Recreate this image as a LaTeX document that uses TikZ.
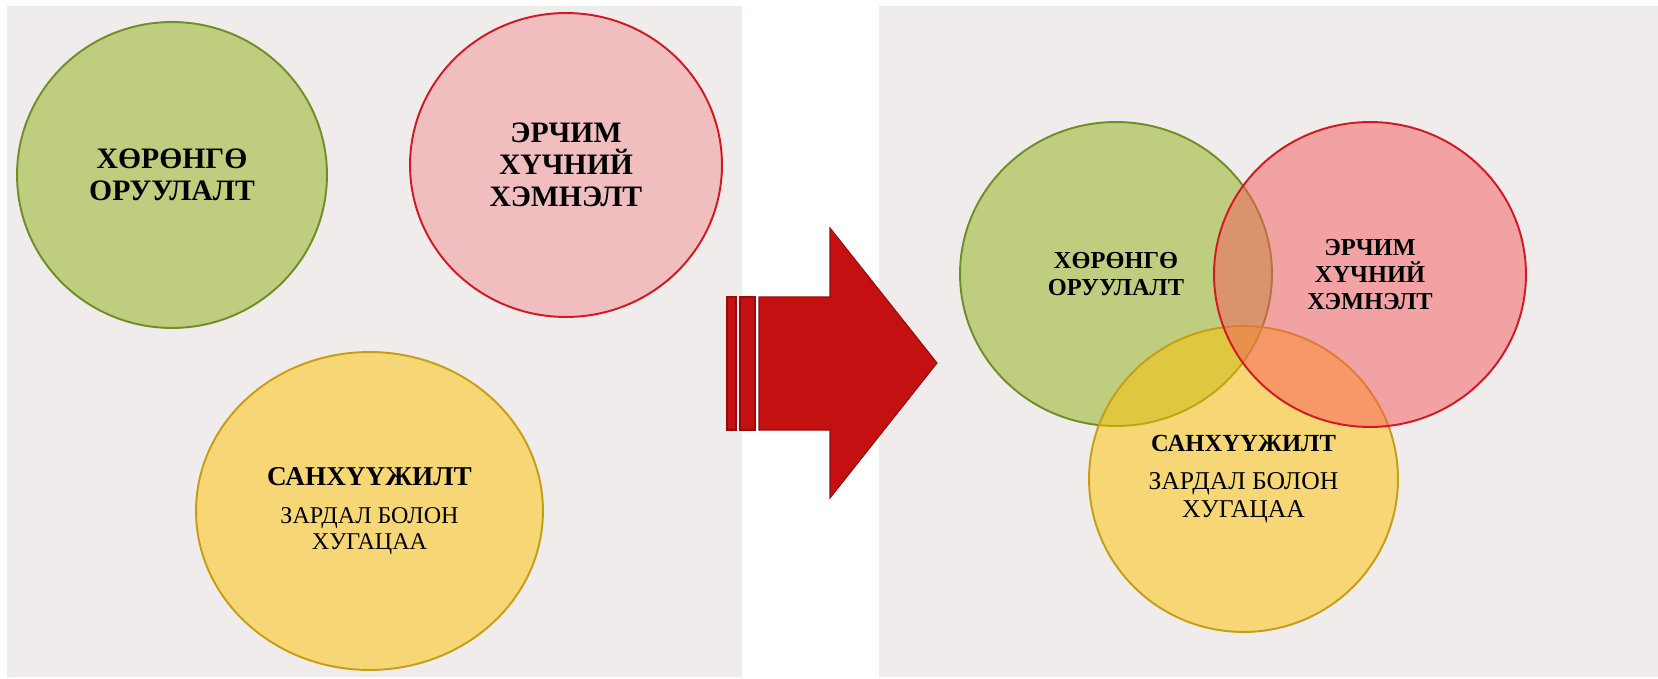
\documentclass[tikz,border=0pt]{standalone}
\usepackage{fontspec}
\setmainfont{Liberation Serif}
\usetikzlibrary{shapes.geometric}

\definecolor{panelgray}{RGB}{240,236,236}
\definecolor{greenfill}{RGB}{144,176,20}
\definecolor{greenline}{RGB}{112,142,40}
\definecolor{redfill}{RGB}{246,90,92}
\definecolor{redline}{RGB}{212,24,34}
\definecolor{yellowfill}{RGB}{255,196,0}
\definecolor{yellowline}{RGB}{198,158,20}
\definecolor{arrowred}{RGB}{196,16,16}
\definecolor{arrowline}{RGB}{150,12,12}

\begin{document}
\begin{tikzpicture}[x=0.02cm, y=-0.02cm,
    panel/.style={fill=panelgray},
    disc/.style={ellipse, inner sep=0pt, align=center, line width=1.1pt, fill opacity=0.5, text opacity=1},
    bigbold/.style={font=\fontsize{16.9}{18.2}\selectfont\bfseries},
    smallbold/.style={font=\fontsize{13.9}{15.4}\selectfont\bfseries},
    stripe/.style={fill=arrowred, draw=arrowline, line width=0.6pt}]

    \useasboundingbox (0,0) rectangle (1658,679);

    \fill[panel] (7,6) rectangle (742,677);
    \fill[panel] (879,6) rectangle (1658,677);

    % before
    \node[disc, bigbold, draw=greenline, fill=greenfill, minimum width=6.2cm, minimum height=6.12cm]
        (assetL) at (172,175) {ХӨРӨНГӨ\\ОРУУЛАЛТ};
    \node[disc, bigbold, draw=redline, fill=redfill, fill opacity=0.31, minimum width=6.24cm, minimum height=6.08cm]
        (energyL) at (566,165) {ЭРЧИМ\\ХҮЧНИЙ\\ХЭМНЭЛТ};
    \node[disc, draw=yellowline, fill=yellowfill, minimum width=6.94cm, minimum height=6.36cm,
        font=\fontsize{13.7}{15.2}\selectfont]
        (financeL) at (369.5,511) {{\bfseries\fontsize{15.5}{15.5}\selectfont САНХҮҮЖИЛТ}\\[6.5pt]ЗАРДАЛ БОЛОН\\ХУГАЦАА};

    \draw[stripe] (727,297) rectangle (736,430);
    \draw[stripe] (740,297) rectangle (755,430);
    \draw[stripe] (759,297) -- (830,297) -- (830,228) -- (937,363) -- (830,498) -- (830,430) -- (759,430) -- cycle;

    % after
    \node[disc, smallbold, draw=greenline, fill=greenfill, minimum width=6.24cm, minimum height=6.08cm]
        (assetR) at (1116,274) {ХӨРӨНГӨ\\ОРУУЛАЛТ};
    \node[disc, draw=yellowline, fill=yellowfill, minimum width=6.18cm, minimum height=6.12cm,
        font=\fontsize{14.6}{16}\selectfont]
        (financeR) at (1243.5,479) {{\bfseries\fontsize{14}{14}\selectfont САНХҮҮЖИЛТ}\\[5.5pt]ЗАРДАЛ БОЛОН\\ХУГАЦАА};
    \node[disc, smallbold, draw=redline, fill=redfill, minimum width=6.24cm, minimum height=6.1cm]
        (energyR) at (1370,274.5) {ЭРЧИМ\\ХҮЧНИЙ\\ХЭМНЭЛТ};

\end{tikzpicture}
\end{document}
